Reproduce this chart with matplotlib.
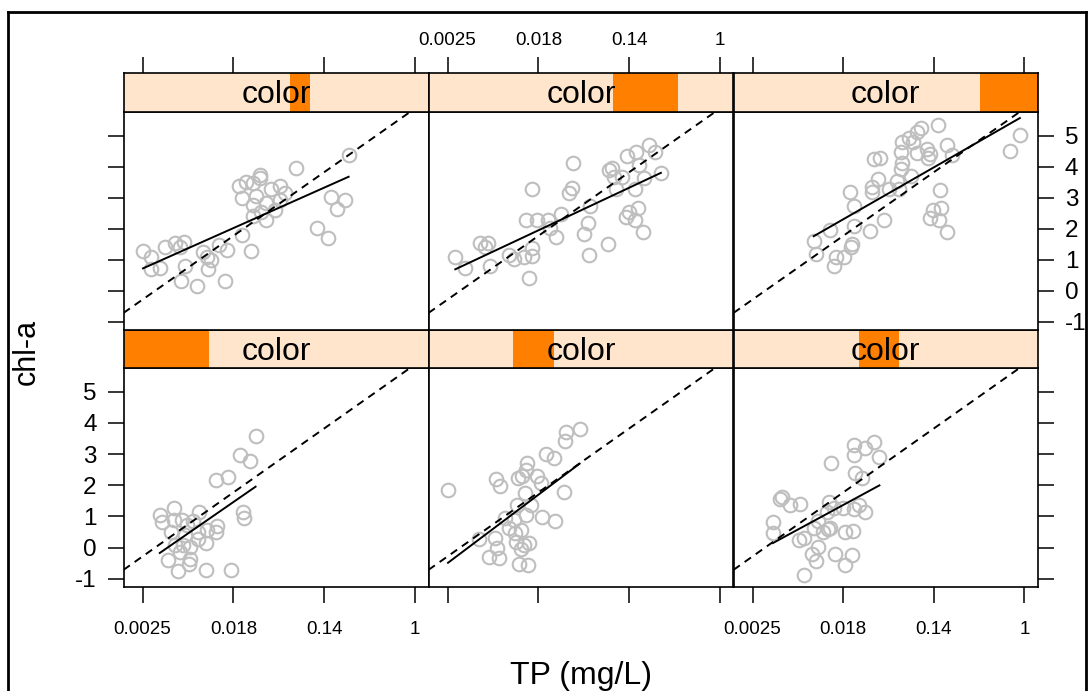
import numpy as np
import matplotlib
matplotlib.use("Agg")
import matplotlib.pyplot as plt
from matplotlib.patches import Rectangle
from matplotlib.lines import Line2D

plt.rcParams['font.family'] = ['Liberation Sans', 'DejaVu Sans']

# ---------------- data (x = ln(TP), y = chl-a) ----------------
# panels in lattice order: bottom-left, bottom-mid, bottom-right, top-left, top-mid, top-right
x_p1 = [-5.62, -5.57, -5.30, -5.31, -5.37, -5.13, -5.02, -4.75, -4.89, -4.78, -4.78, -4.61,
        -4.37, -4.39, -5.28, -5.11, -4.96, -5.45, -5.23, -4.98, -4.95, -4.61, -4.06, -3.78,
        -3.77, -4.39, -4.12, -3.86, -3.63, -3.51, -5.17, -4.58, -5.06]
y_p1 = [1.05, 0.82, 1.27, 0.89, 0.51, 0.89, 0.73, 1.13, 0.84, 0.51, 0.28, 0.14,
        0.68, 0.51, 0.08, 0.08, 0.03, -0.41, -0.76, -0.51, -0.35, -0.73, -0.70, 1.16,
        0.95, 2.16, 2.26, 2.98, 2.78, 3.59, -0.14, 0.57, 0.41]

x_p2 = [-5.99, -5.30, -5.09, -4.86, -4.91, -4.95, -4.93, -4.84, -4.65, -4.54, -4.52, -4.39,
        -4.49, -4.39, -4.42, -4.22, -4.21, -4.32, -4.47, -4.30, -4.28, -4.17, -4.45, -4.36,
        -4.25, -4.28, -4.03, -3.95, -3.91, -3.63, -3.44, -3.84, -3.66, -3.41, -3.38, -3.09,
        -4.73]
y_p2 = [1.86, 0.28, -0.30, -0.33, -0.01, 0.30, 2.21, 1.97, 0.64, 0.89, 0.46, 0.57,
        0.19, -0.03, -0.51, -0.54, 0.14, 0.08, 1.38, 1.76, 1.05, 1.36, 2.24, 2.30,
        2.71, 2.48, 2.30, 2.08, 0.97, 0.87, 1.79, 3.00, 2.89, 3.43, 3.70, 3.79,
        0.95]

x_p3 = [-5.55, -5.54, -5.40, -5.35, -5.17, -4.96, -4.98, -4.86, -4.69, -4.56, -4.59, -4.87,
        -4.64, -4.56, -4.45, -4.36, -4.32, -4.28, -4.34, -4.19, -3.95, -3.80, -3.95, -3.78,
        -4.00, -3.75, -3.51, -3.73, -3.58, -4.27, -3.77, -3.75, -3.51, -3.31, -3.20, -3.66,
        -4.21]
y_p3 = [0.46, 0.82, 1.57, 1.62, 1.38, 1.40, 0.24, 0.30, -0.19, 0.03, -0.44, -0.86,
        0.62, 0.84, 0.51, 1.16, 1.46, 0.62, 0.60, -0.19, -0.57, -0.22, 0.49, 0.55,
        1.27, 1.25, 1.16, 2.41, 2.24, 2.73, 3.29, 2.97, 3.18, 3.38, 2.92, 1.38,
        1.27]

x_p4 = [-5.99, -5.82, -5.82, -5.62, -5.50, -5.29, -5.18, -5.09, -5.06, -5.15, -4.79, -4.67,
        -4.58, -4.56, -4.50, -4.32, -4.15, -4.19, -3.82, -3.61, -3.88, -3.71, -3.80, -3.56,
        -3.41, -3.41, -3.49, -3.56, -3.56, -3.29, -3.27, -3.18, -3.09, -2.98, -2.97, -2.87,
        -3.40, -2.61, -1.46, -1.85, -1.72, -1.54, -2.15, -1.91]
y_p4 = [1.28, 1.10, 0.72, 0.74, 1.42, 1.53, 1.42, 1.58, 0.80, 0.32, 0.15, 1.26,
        1.10, 0.71, 1.01, 1.47, 1.31, 0.32, 1.80, 1.28, 3.39, 3.52, 3.00, 3.46,
        3.73, 3.62, 3.05, 2.76, 2.41, 2.82, 2.28, 3.28, 2.62, 3.39, 2.92, 3.14,
        2.55, 3.95, 4.38, 3.01, 2.63, 2.92, 2.03, 1.69]

x_p5 = [-5.83, -5.62, -5.28, -5.11, -5.18, -5.06, -4.65, -4.54, -4.32, -4.15, -4.14, -4.21,
        -4.28, -4.03, -3.78, -3.75, -3.62, -3.49, -4.15, -3.33, -3.25, -3.23, -2.87, -2.90,
        -2.99, -2.88, -2.46, -2.44, -2.37, -2.33, -2.28, -2.15, -2.04, -1.84, -1.57, -1.42,
        -1.78, -1.67, -1.87, -2.07, -2.01, -1.81, -1.87, -1.70, -1.30]
y_p5 = [1.10, 0.74, 1.55, 1.55, 1.42, 0.80, 1.15, 1.04, 1.10, 1.12, 1.37, 0.43,
        2.28, 2.28, 2.28, 2.01, 1.72, 2.49, 3.28, 3.16, 3.30, 4.13, 2.73, 2.17,
        1.83, 1.16, 1.51, 3.89, 3.95, 3.68, 3.28, 3.68, 4.34, 4.48, 4.70, 4.48,
        4.05, 3.62, 3.27, 2.37, 2.55, 2.66, 2.28, 1.90, 3.78]

x_p6 = [-4.65, -4.61, -4.28, -4.21, -4.15, -3.99, -3.83, -3.80, -3.75, -3.77, -3.84, -3.41,
        -3.10, -3.36, -3.36, -3.24, -2.99, -2.77, -2.81, -2.70, -2.72, -2.51, -3.33, -3.19,
        -2.72, -2.70, -2.55, -2.46, -2.38, -2.29, -2.37, -2.16, -2.13, -2.09, -1.91, -1.70,
        -1.59, -1.87, -1.84, -2.01, -2.09, -1.89, -1.70, -0.32, -0.10]
y_p6 = [1.60, 1.20, 1.96, 0.80, 1.10, 1.10, 1.42, 1.51, 2.09, 2.74, 3.18, 1.94,
        2.28, 3.19, 3.35, 3.60, 3.27, 3.28, 3.55, 4.11, 3.92, 3.71, 4.25, 4.27,
        4.46, 4.81, 4.91, 4.81, 5.10, 5.24, 4.45, 4.56, 4.27, 4.41, 5.34, 4.70,
        4.38, 3.25, 2.68, 2.60, 2.35, 2.28, 1.90, 4.52, 5.02]

# shingle ("color") intervals, on a 0-100 scale of the conditioning variable
color_range = (0.0, 100.0)
color_intervals = [(0.0, 28.1), (27.7, 41.1), (41.2, 54.4),
                   (54.6, 61.1), (60.5, 81.8), (80.9, 100.0)]

# reference (dashed) line: chl-a = a + b * ln(TP)
ref_intercept = 5.87
ref_slope = 1.025

tick_ln = [-6, -4, -2, 0]
tick_labels = ['0.0025', '0.018', '0.14', '1']
ytick_vals = [-1, 0, 1, 2, 3, 4, 5]

# ---------------- layout ----------------
W, H = 1091, 691
fig = plt.figure(figsize=(W / 100, H / 100), dpi=100)

col_edges = [123.5, 428.5, 733.5, 1038.0]
row_geom = {  # (strip_top, strip_bottom, panel_bottom) in pixels from top
    'top': (73.0, 112.0, 330.0),
    'bottom': (330.0, 368.0, 587.0),
}
xlim = (-6.42, 0.30)
ylim = (-1.26, 5.76)

strip_bg = '#FFE5CC'
strip_fg = '#FF7F00'
pt_col = '#BEBEBE'
tick_len = 11.3
lw_frame = 1.2


def frac_box(x0, x1, ytop, ybot):
    return [x0 / W, 1 - ybot / H, (x1 - x0) / W, (ybot - ytop) / H]


panels = [
    ('bottom', 0, x_p1, y_p1), ('bottom', 1, x_p2, y_p2), ('bottom', 2, x_p3, y_p3),
    ('top', 0, x_p4, y_p4), ('top', 1, x_p5, y_p5), ('top', 2, x_p6, y_p6),
]

for k, (row, col, xs, ys) in enumerate(panels):
    st, sb, pb = row_geom[row]
    x0, x1 = col_edges[col], col_edges[col + 1]
    ax = fig.add_axes(frac_box(x0, x1, sb, pb))
    ax.set_xlim(*xlim)
    ax.set_ylim(*ylim)
    xs = np.asarray(xs)
    ys = np.asarray(ys)
    ax.plot(xs, ys, linestyle='none', marker='o', mfc='none', mec=pt_col,
            ms=9.8, mew=1.5, zorder=2)
    # dashed reference line across the panel
    xx = np.array(xlim)
    ax.plot(xx, ref_intercept + ref_slope * xx, color='black', lw=1.4,
            dashes=(4, 3), zorder=3)
    # per-panel least squares fit over the data range
    b, a = np.polyfit(xs, ys, 1)
    xr = np.array([xs.min(), xs.max()])
    ax.plot(xr, a + b * xr, color='black', lw=1.4, zorder=3)

    for s in ax.spines.values():
        s.set_linewidth(lw_frame)

    # ticks
    ax.set_xticks(tick_ln)
    ax.set_yticks(ytick_vals)
    ax.tick_params(direction='out', length=tick_len, width=1.1, colors='black')
    if row == 'bottom':
        ax.tick_params(axis='x', bottom=True, top=False, labelbottom=(col != 1),
                       labeltop=False, labelsize=13.5, pad=13.5)
        ax.set_xticklabels(tick_labels)
    else:
        ax.tick_params(axis='x', bottom=False, top=False, labelbottom=False, labeltop=False)
    left = (col == 0)
    right = (col == 2)
    ax.tick_params(axis='y', left=left, right=right,
                   labelleft=(left and row == 'bottom'),
                   labelright=(right and row == 'top'),
                   labelsize=17.5, pad=8)
    ax.set_yticklabels([str(v) for v in ytick_vals])

    # strip
    sax = fig.add_axes(frac_box(x0, x1, st, sb))
    sax.set_xlim(*xlim)
    sax.set_ylim(0, 1)
    sax.set_facecolor(strip_bg)
    lo, hi = color_intervals[k]
    f0 = (lo - color_range[0]) / (color_range[1] - color_range[0])
    f1 = (hi - color_range[0]) / (color_range[1] - color_range[0])
    sax.add_patch(Rectangle((f0, 0), f1 - f0, 1, transform=sax.transAxes,
                            facecolor=strip_fg, edgecolor='none', zorder=1))
    sax.text(0.5, 0.43, 'color', transform=sax.transAxes, ha='center', va='center',
             fontsize=23, color='black', zorder=3)
    for s in sax.spines.values():
        s.set_linewidth(lw_frame)
    sax.set_yticks([])
    if row == 'top':
        sax.set_xticks(tick_ln)
        sax.set_xticklabels(tick_labels)
        sax.tick_params(axis='x', direction='out', top=True, bottom=False,
                        labeltop=(col == 1), labelbottom=False, length=tick_len,
                        width=1.1, labelsize=13.5, pad=6)
    else:
        sax.set_xticks([])

# axis titles
fig.text(27 / W, 1 - 352 / H, 'chl-a', rotation=90, ha='center', va='center', fontsize=22)
fig.text(581 / W, 1 - 676 / H, 'TP (mg/L)', ha='center', va='center', fontsize=23)

# outer frame
for (xa, ya, xb, yb) in [(8, 691, 8, 12), (8, 12, 1085.5, 12), (1085.5, 12, 1085.5, 691)]:
    fig.add_artist(Line2D([xa / W, xb / W], [1 - ya / H, 1 - yb / H],
                          transform=fig.transFigure, color='black', lw=2.0))

fig.savefig('out.png', dpi=100)
